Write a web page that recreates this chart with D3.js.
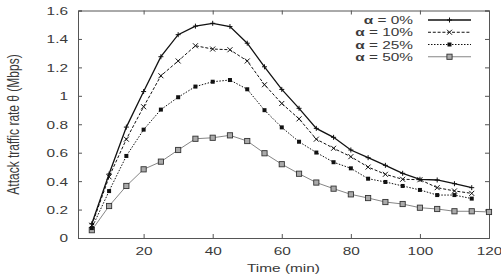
<!DOCTYPE html>
<html><head><meta charset="utf-8">
<script src="https://cdn.jsdelivr.net/npm/d3@7"></script>
<style>
html,body{margin:0;padding:0;background:#fff;}
svg{display:block;font-family:"Liberation Sans",Arial,sans-serif;}
</style></head>
<body><svg id="c" width="501" height="276"></svg>
<script>
const timesA = [5,10,15,20,25,30,35,40,45,50,55,60,65,70,75,80,85,90,95,100,105,110,115];
const timesB = [5,10,15,20,25,30,35,40,45,50,55,60,65,70,75,80,85,90,95,100,105,110,115,120];
const alpha0  = [0.10,0.45,0.78,1.03,1.275,1.43,1.49,1.51,1.487,1.37,1.204,1.045,0.912,0.771,0.708,0.619,0.565,0.511,0.455,0.413,0.408,0.382,0.354];
const alpha10 = [0.09,0.43,0.695,0.923,1.141,1.245,1.352,1.329,1.324,1.245,1.078,0.946,0.838,0.695,0.631,0.572,0.499,0.448,0.413,0.41,0.354,0.331,0.314];
const alpha25 = [0.07,0.33,0.577,0.762,0.903,0.99,1.065,1.099,1.111,1.046,0.899,0.778,0.677,0.601,0.533,0.490,0.417,0.394,0.366,0.338,0.302,0.302,0.277];
const alpha50 = [0.055,0.225,0.366,0.483,0.537,0.619,0.698,0.705,0.722,0.682,0.596,0.519,0.452,0.39,0.347,0.307,0.281,0.253,0.239,0.213,0.204,0.188,0.188,0.183];
const seriesNames = ["\u03b1 = 0%","\u03b1 = 10%","\u03b1 = 25%","\u03b1 = 50%"];
const xTicks = [20,40,60,80,100,120];
const yTicks = [0,0.2,0.4,0.6,0.8,1,1.2,1.4,1.6];
const yTickLabels = ["0","0.2","0.4","0.6","0.8","1","1.2","1.4","1.6"];
const xTickLabels = ["20","40","60","80","100","120"];
const xTitle = "Time (min)";
const yTitle = "Attack traffic rate \u03b8 (Mbps)";

const SX = 1.4; // horizontal stretch of text in the original
const TXT = "#3a3a3a";
const L=78, R=489, T=10.5, B=238;
const x = d3.scaleLinear().domain([1,120]).range([L,R]);
const y = d3.scaleLinear().domain([0,1.6]).range([B,T]);
const svg = d3.select("#c");

const styles = [
  {stroke:"#111", width:1.3, dash:null, marker:"plus"},
  {stroke:"#111", width:1.0, dash:"3,1.8", marker:"cross"},
  {stroke:"#111", width:1.0, dash:"1.5,1.5", marker:"fsq"},
  {stroke:"#777", width:0.9, dash:null, marker:"osq"}
];
const data = [
  timesA.map((t,i)=>[t,alpha0[i]]),
  timesA.map((t,i)=>[t,alpha10[i]]),
  timesA.map((t,i)=>[t,alpha25[i]]),
  timesB.map((t,i)=>[t,alpha50[i]])
];

const frameCol = "#555";
function styleAxis(g){
  g.select(".domain").attr("stroke",frameCol).attr("stroke-width",1);
  g.selectAll(".tick line").attr("stroke",frameCol).attr("stroke-width",1);
}
const gl = svg.append("g").attr("transform",`translate(${L},0)`)
  .call(d3.axisLeft(y).tickValues(yTicks).tickSize(-4).tickPadding(0)
    .tickFormat((d,i)=>yTickLabels[i]));
styleAxis(gl);
gl.selectAll(".tick text").attr("x",0).attr("dy","0.36em")
  .attr("transform",`translate(-10,0) scale(${SX},1)`)
  .attr("font-size",11).attr("fill",TXT).attr("font-family","Liberation Sans, Arial, sans-serif");

const gb = svg.append("g").attr("transform",`translate(0,${B})`)
  .call(d3.axisBottom(x).tickValues(xTicks).tickSize(-4).tickPadding(0)
    .tickFormat((d,i)=>xTickLabels[i]));
styleAxis(gb);
gb.selectAll(".tick text").attr("y",0).attr("dy",0)
  .attr("transform",`translate(0,17) scale(${SX},1)`)
  .attr("font-size",11).attr("fill",TXT).attr("font-family","Liberation Sans, Arial, sans-serif");

const gt = svg.append("g").attr("transform",`translate(0,${T})`)
  .call(d3.axisTop(x).tickValues(xTicks).tickSize(-4).tickFormat(""));
styleAxis(gt);
const gr = svg.append("g").attr("transform",`translate(${R},0)`)
  .call(d3.axisRight(y).tickValues(yTicks).tickSize(-4).tickFormat(""));
styleAxis(gr);

svg.append("text").attr("transform",`translate(${(L+R)/2},272) scale(${SX},1)`)
  .attr("text-anchor","middle").attr("font-size",11).attr("fill",TXT).text(xTitle);
svg.append("text").attr("transform",`translate(19,124.5) scale(${SX},1) rotate(-90)`)
  .attr("text-anchor","middle").attr("font-size",12).attr("fill",TXT).text(yTitle);

function drawMarker(g, type, cx, cy){
  if(type==="plus"){
    g.append("path").attr("d",`M${cx-2.5},${cy}H${cx+2.5}M${cx},${cy-2.5}V${cy+2.5}`)
      .attr("stroke","#111").attr("stroke-width",1);
  } else if(type==="cross"){
    g.append("path").attr("d",`M${cx-2.5},${cy-2.5}L${cx+2.5},${cy+2.5}M${cx-2.5},${cy+2.5}L${cx+2.5},${cy-2.5}`)
      .attr("stroke","#111").attr("stroke-width",1);
  } else if(type==="fsq"){
    g.append("rect").attr("x",cx-2).attr("y",cy-2).attr("width",4).attr("height",4).attr("fill","#111");
  } else {
    g.append("rect").attr("x",cx-2.6).attr("y",cy-2.6).attr("width",5.2).attr("height",5.2)
      .attr("fill","#aaa").attr("stroke","#333").attr("stroke-width",0.9);
  }
}

const line = d3.line().x(d=>x(d[0])).y(d=>y(d[1]));
for(let s=3;s>=0;s--){
  const st = styles[s];
  const g = svg.append("g");
  g.append("path").datum(data[s]).attr("d",line).attr("fill","none")
    .attr("stroke",st.stroke).attr("stroke-width",st.width)
    .attr("stroke-dasharray",st.dash);
  data[s].forEach(d=>drawMarker(g, st.marker, x(d[0]), y(d[1])));
}

const legY0 = 20, legDy = 12.25;
seriesNames.forEach((name,i)=>{
  const st = styles[i];
  const yy = legY0 + i*legDy;
  const t = svg.append("text").attr("transform",`translate(413,${yy+4}) scale(${SX},1)`)
    .attr("text-anchor","end").attr("font-size",11).attr("fill",TXT);
  t.append("tspan").attr("font-weight","bold").text(name.slice(0,1));
  t.append("tspan").text(name.slice(1));
  const g = svg.append("g");
  g.append("line").attr("x1",428).attr("x2",471).attr("y1",yy).attr("y2",yy)
    .attr("stroke",st.stroke).attr("stroke-width",st.width).attr("stroke-dasharray",st.dash);
  drawMarker(g, st.marker, 449.5, yy);
});
</script></body></html>
